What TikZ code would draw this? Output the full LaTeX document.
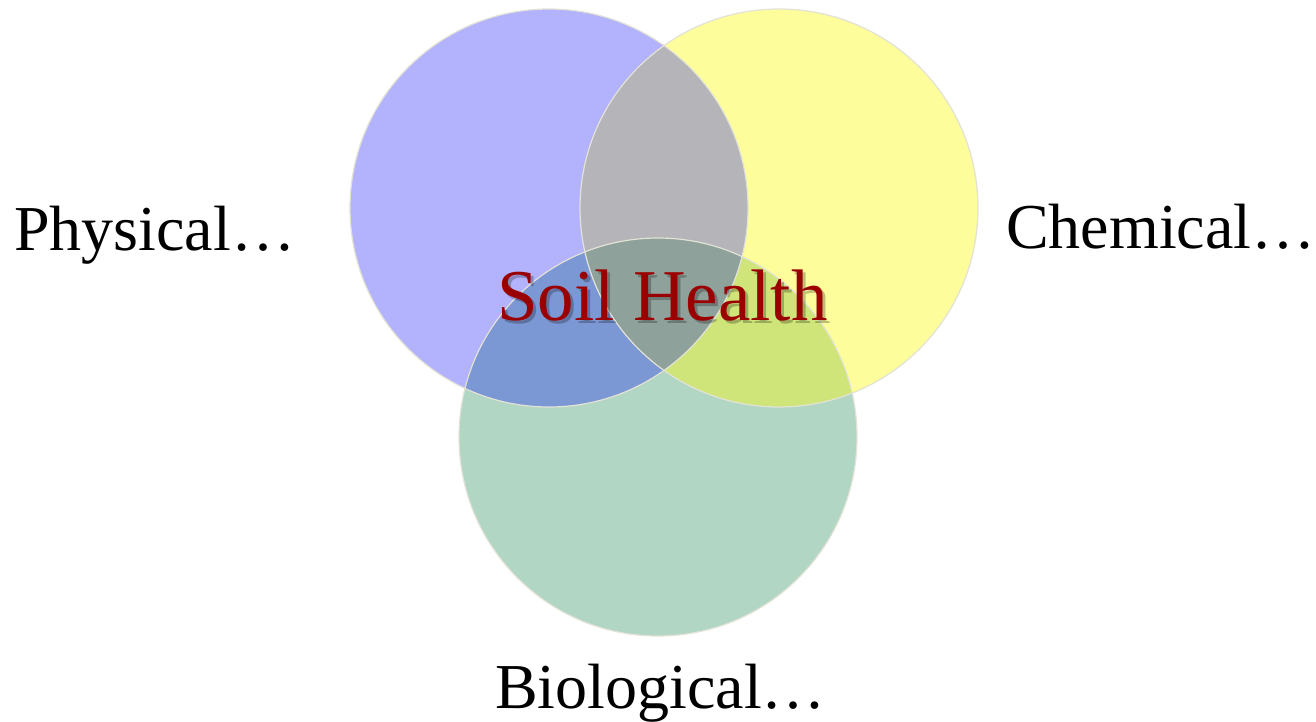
\documentclass[tikz,border=0pt]{standalone}
\usepackage{fontspec}
\setmainfont{Liberation Serif}
\definecolor{cA}{RGB}{178,179,252}
\definecolor{cB}{RGB}{253,253,155}
\definecolor{cC}{RGB}{177,214,196}
\definecolor{cAB}{RGB}{180,180,185}
\definecolor{cAC}{RGB}{123,151,212}
\definecolor{cBC}{RGB}{207,229,122}
\definecolor{cABC}{RGB}{143,161,155}
\definecolor{edge}{RGB}{226,226,214}
\definecolor{soil}{RGB}{155,0,0}
\tikzset{
  lbl/.style={anchor=base west, inner sep=0pt, font=\fontsize{64}{64}\selectfont},
  ttl/.style={anchor=base west, inner sep=0pt, font=\fontsize{73}{73}\selectfont},
  rim/.style={draw=edge, line width=1.2pt}
}
\begin{document}
\begin{tikzpicture}[x=1pt,y=-1pt]
\useasboundingbox (0,0) rectangle (1316,721);
\fill[white] (0,0) rectangle (1316,721);
\coordinate (A) at (549,208);
\coordinate (B) at (779,208);
\coordinate (C) at (658,437);
\def\R{199}
\fill[cA] (A) circle (\R);
\fill[cB] (B) circle (\R);
\fill[cC] (C) circle (\R);
\begin{scope}\clip (A) circle (\R); \fill[cAB] (B) circle (\R); \end{scope}
\begin{scope}\clip (A) circle (\R); \fill[cAC] (C) circle (\R); \end{scope}
\begin{scope}\clip (B) circle (\R); \fill[cBC] (C) circle (\R); \end{scope}
\begin{scope}\clip (A) circle (\R); \clip (B) circle (\R); \fill[cABC] (C) circle (\R); \end{scope}
\draw[rim] (A) circle (\R);
\draw[rim] (B) circle (\R);
\draw[rim] (C) circle (\R);
\node[lbl] (phys) at (14,250) {Physical…};
\node[lbl] (chem) at (1006,248) {Chemical…};
\node[lbl] (bio) at (495,708) {Biological…};
\node[ttl, text=black, opacity=0.25] at (500,323) {Soil Health};
\node[ttl, text=soil] (soil) at (497,320) {Soil Health};
\end{tikzpicture}
\end{document}
